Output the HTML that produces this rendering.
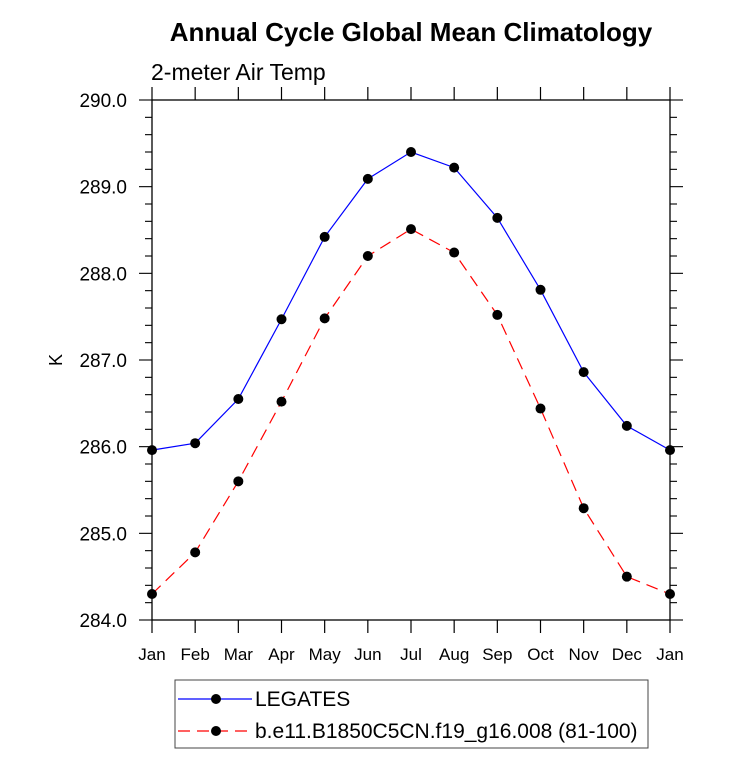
<!DOCTYPE html>
<html><head><meta charset="utf-8"><style>
body{margin:0;background:#fff;}
svg{font-family:"Liberation Sans",Helvetica,sans-serif;}
</style></head><body>
<svg width="733" height="770" viewBox="0 0 733 770" xmlns="http://www.w3.org/2000/svg">
<text x="411" y="41" text-anchor="middle" font-size="26" font-weight="bold">Annual Cycle Global Mean Climatology</text>
<text x="151" y="80" font-size="23">2-meter Air Temp</text>
<text x="62" y="360" font-size="18" text-anchor="middle" transform="rotate(-90 62 360)">K</text>
<g id="axes"></g>
<g id="series"></g>
<rect x="175" y="680" width="473" height="68" fill="none" stroke="#444" stroke-width="1"/>
<g>
<line x1="178" y1="699" x2="252" y2="699" stroke="#0000ff" stroke-width="1.2"/>
<circle cx="216" cy="699" r="5" fill="#000"/>
<text x="255" y="706" font-size="21">LEGATES</text>
</g>
<g>
<line x1="178" y1="731" x2="252" y2="731" stroke="#ff0000" stroke-width="1.2" stroke-dasharray="12,7"/>
<circle cx="216" cy="731" r="5" fill="#000"/>
<text x="255" y="738" font-size="21">b.e11.B1850C5CN.f19_g16.008 (81-100)</text>
</g>
</svg>
<script>
const months=["Jan","Feb","Mar","Apr","May","Jun","Jul","Aug","Sep","Oct","Nov","Dec","Jan"];
const legates=[285.96,286.04,286.55,287.47,288.42,289.09,289.40,289.22,288.64,287.81,286.86,286.24,285.96];
const model=[284.30,284.78,285.60,286.52,287.48,288.20,288.51,288.24,287.52,286.44,285.29,284.50,284.30];
const yTicks=[284,285,286,287,288,289,290];
const NS="http://www.w3.org/2000/svg";
const L=152,R=670,T=100,B=620,ymin=284,ymax=290;
const xs=i=>L+(R-L)*i/12;
const ys=v=>B-(v-ymin)/(ymax-ymin)*(B-T);
function mk(tag,at,parent){const e=document.createElementNS(NS,tag);for(const k in at)e.setAttribute(k,at[k]);parent.appendChild(e);return e;}
const ax=document.getElementById('axes');
const frame=mk('rect',{x:L,y:T,width:R-L,height:B-T,fill:'none',stroke:'#000','stroke-width':1.3},ax);


for(let i=0;i<months.length;i++){
 const x=xs(i);
 mk('line',{x1:x,y1:B,x2:x,y2:B+13,stroke:'#000','stroke-width':1.2},ax);
 mk('line',{x1:x,y1:T,x2:x,y2:T-13,stroke:'#000','stroke-width':1.2},ax);
 const t=mk('text',{x:x,y:B+40,'text-anchor':'middle','font-size':17},ax);
 t.textContent=months[i];
 
 
}
for(let v=ymin;v<=ymax+1e-9;v+=0.2){
 const y=ys(v);const major=Math.abs(v-Math.round(v))<1e-6;const len=major?13:7;
 mk('line',{x1:L-len,y1:y,x2:L,y2:y,stroke:'#000','stroke-width':1.1},ax);
 mk('line',{x1:R,y1:y,x2:R+len,y2:y,stroke:'#000','stroke-width':1.1},ax);
}
yTicks.forEach(v=>{
 const t=mk('text',{x:L-25,y:ys(v)+7,'text-anchor':'end','font-size':19},ax);
 t.textContent=v.toFixed(1);
 
 
});
const sg=document.getElementById('series');
function series(vals,color,dash,name){
 const g=mk('g',{},sg);
 
 
 const pts=vals.map((v,i)=>xs(i)+','+ys(v)).join(' ');
 const a={points:pts,fill:'none',stroke:color,'stroke-width':1.2};
 if(dash)a['stroke-dasharray']=dash;
 mk('polyline',a,g);
 vals.forEach((v,i)=>{
  const c=mk('circle',{cx:xs(i),cy:ys(v),r:5,fill:'#000'},g);
  
  
 });
}
series(legates,'#0000ff',null,'legates-line');
series(model,'#ff0000','12,7','model-line');
</script>
</body></html>
